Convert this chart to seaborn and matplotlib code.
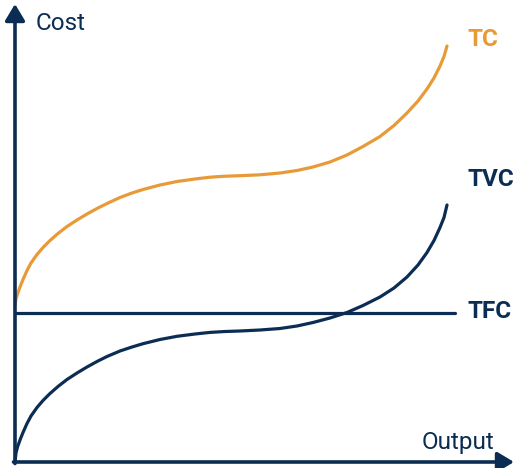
import matplotlib
matplotlib.use("Agg")
import matplotlib.pyplot as plt
import seaborn as sns
import pandas as pd

# Data (output units, cost units)
curve_output = [0, 1, 2.5, 5, 8, 12, 16, 22, 28, 35, 43, 52, 62, 72, 82, 92, 105, 117, 128, 145,
                162, 180, 195, 210, 225, 245, 265, 282, 298, 315, 332, 348, 365, 379, 392, 403,
                412, 419, 425, 429, 432]

tvc_cost = [0, 9, 15, 22, 29.5, 38.5, 46, 54.5, 61.5, 68.5, 75.5, 82.5, 89, 95, 100.5, 105.5,
            111, 115, 118.3, 122.5, 125.7, 128, 129.6, 130.5, 131, 132, 133.5, 136, 139.5, 144,
            149.5, 156.5, 165, 174, 185, 197, 209.5, 221.5, 234.5, 244.5, 257]

tc_cost = [157, 163, 168, 175, 182.5, 191.5, 199, 207.5, 214.5, 221.5, 228.5, 235.5, 242, 248,
           253.5, 258.5, 264.5, 269, 272.5, 277, 280.5, 283, 284.8, 285.8, 286.3, 287.2, 289,
           291.5, 295, 300, 307, 315.5, 325.5, 336.5, 349, 361, 373, 384, 396, 405.5, 416]

tfc_output = [0, 440]
tfc_cost = [149, 149]

series_names = ["TC", "TVC", "TFC"]
navy = "#0c2d53"
orange = "#e99a38"

df = pd.concat([
    pd.DataFrame({"Output": curve_output, "Cost": tc_cost, "curve": "TC"}),
    pd.DataFrame({"Output": curve_output, "Cost": tvc_cost, "curve": "TVC"}),
    pd.DataFrame({"Output": tfc_output, "Cost": tfc_cost, "curve": "TFC"}),
], ignore_index=True)

sns.set_style("white")
plt.rcParams["font.family"] = ["Roboto", "DejaVu Sans"]

fig = plt.figure(figsize=(5.15, 4.68), dpi=100)
ax = fig.add_axes([0, 0, 1, 1])

sns.lineplot(data=df, x="Output", y="Cost", hue="curve", sort=False,
             palette={"TC": orange, "TVC": navy, "TFC": navy},
             linewidth=2.3, legend=False, ax=ax, estimator=None)
for ln in ax.get_lines():
    ln.set_solid_capstyle("round")
    ln.set_solid_joinstyle("round")

ax.set_xlim(-15, 500)
ax.set_ylim(-6, 462)
ax.axis("off")

# axes with arrows
ax.annotate("", xy=(499, 0), xytext=(-1.5, 0),
            arrowprops=dict(arrowstyle="-|>,head_length=1.0,head_width=0.6",
                            color=navy, lw=2.6, shrinkA=0, shrinkB=0))
ax.annotate("", xy=(0, 458), xytext=(0, -1.5),
            arrowprops=dict(arrowstyle="-|>,head_length=1.0,head_width=0.6",
                            color=navy, lw=2.6, shrinkA=0, shrinkB=0))

ax.text(21, 438, "Cost", color=navy, fontsize=17.5, va="center", ha="left")
ax.text(443, 20, "Output", color=navy, fontsize=17.5, va="center", ha="center")

label_pos = {"TC": (453, 422), "TVC": (453, 282), "TFC": (453, 150)}
label_col = {"TC": orange, "TVC": navy, "TFC": navy}
for name in series_names:
    x, y = label_pos[name]
    ax.text(x, y, name, color=label_col[name], fontsize=17.5, fontweight="bold",
            va="center", ha="left")

fig.savefig("out.png", dpi=100)
